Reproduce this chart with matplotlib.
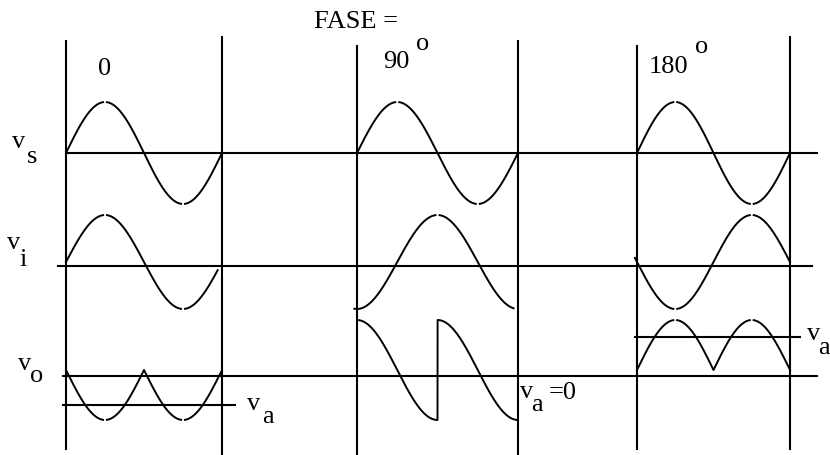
"""
    fase_detector.py
    ~~~~~~~~~~~~~~~~

    Phase-sensitive detector waveforms: vs, vi and vo for a reference
    phase of 0, 90 and 180 degrees, with the mean output va.
"""

# 3rd party modules
import numpy as np
from matplotlib import pyplot as plt


PHASES = [0, 90, 180]                 # phase of vi against vs, in degrees
PHASE_LABELS = ['0', '90', '180']
VA_LEVELS = [-0.7, 0.0, 0.66]         # mean of vo (in units of amplitude)
VA_TEXT = ['', '=0', '']
ROW_NAMES = ['s', 'i', 'o']
VI_SPAN = [(0, 350), (-6, 350), (-5, 360)]

# layout, in pixels
PANEL_X0 = [66, 357, 637]
PANEL_W = [156, 161, 153]
PANEL_TOP = [[42, 38], [47, 42], [47, 38]]
PANEL_BOTTOM = [[450, 456], [456, 456], [450, 450]]
ROW_LINE_Y = [154, 267, 377]
ROW_LINE_X = [(66, 817), (58, 812), (63, 817)]
ROW_CURVE_Y = [154, 263, 371]
ROW_AMP = [51, 47, 50]
VA_LINE_X = [(63, 235), None, (635, 800)]

FONT = {'family': 'Liberation Serif', 'size': 19, 'color': 'black'}
LW = 1.5


def with_gaps(theta, y):
    """Leave a small break on the flat top and bottom of a stroke."""
    y = y.copy()
    y[np.abs(y) > 0.997] = np.nan
    return y


def waveforms(phase, span):
    theta = np.linspace(0, 360, 1441)
    rad = np.deg2rad(theta)
    vs = np.sin(rad)
    theta_i = np.linspace(span[0], span[1], 1441)
    vi = np.sin(np.deg2rad(theta_i - phase))
    vi_ref = np.sin(rad - np.deg2rad(phase))
    vo = -vi_ref * np.where(vs >= -1e-12, 1.0, -1.0)
    vo[theta == 360] = vo[-2]
    return (theta, vs), (theta_i, vi), (theta, vo)


def main():
    fig = plt.figure(figsize=(8.3, 4.56), dpi=100)
    ax = fig.add_axes([0, 0, 1, 1])
    ax.set_xlim(0, 830)
    ax.set_ylim(456, 0)
    ax.axis('off')

    # row base lines
    for y, (xa, xb) in zip(ROW_LINE_Y, ROW_LINE_X):
        ax.plot([xa, xb], [y, y], color='black', lw=LW)

    for k, phase in enumerate(PHASES):
        x0, w = PANEL_X0[k], PANEL_W[k]
        for j, xv in enumerate([x0, x0 + w]):
            ax.plot([xv, xv], [PANEL_TOP[k][j], PANEL_BOTTOM[k][j]],
                    color='black', lw=LW)

        series = waveforms(phase, VI_SPAN[k])
        for r, (theta, y) in enumerate(series):
            if not (r == 2 and phase == 90):
                y = with_gaps(theta, y)
            xs = x0 + theta / 360.0 * w
            ys = ROW_CURVE_Y[r] - ROW_AMP[r] * y
            ax.plot(xs, ys, color='black', lw=1.4)

        if VA_LINE_X[k] is not None:
            ya = ROW_CURVE_Y[2] - ROW_AMP[2] * VA_LEVELS[k]
            ax.plot(VA_LINE_X[k], [ya, ya], color='black', lw=LW)

    # phase labels
    ax.text(356, 22, 'FASE =', ha='center', va='center', fontdict=FONT)
    ax.text(105, 69, PHASE_LABELS[0], ha='center', va='center', fontdict=FONT)
    ax.text(396, 62, PHASE_LABELS[1], ha='center', va='center', fontdict=FONT)
    ax.text(423, 44, 'o', ha='center', va='center', fontdict=FONT)
    ax.text(668, 67, PHASE_LABELS[2], ha='center', va='center', fontdict=FONT)
    ax.text(702, 47, 'o', ha='center', va='center', fontdict=FONT)

    # row labels
    row_label_pos = [((19, 142), (32, 157)),
                     ((14, 243), (23, 260)),
                     ((25, 364), (37, 376))]
    for name, (pv, ps) in zip(ROW_NAMES, row_label_pos):
        ax.text(*pv, 'v', ha='center', va='center', fontdict=FONT)
        ax.text(*ps, name, ha='center', va='center', fontdict=FONT)

    # va labels
    va_label_pos = [((254, 404), (268, 417)),
                    ((527, 392), (537, 405)),
                    ((814, 334), (824, 348))]
    for k, (pv, pa) in enumerate(va_label_pos):
        ax.text(*pv, 'v', ha='center', va='center', fontdict=FONT)
        ax.text(*pa, 'a', ha='center', va='center', fontdict=FONT)
        if VA_TEXT[k]:
            ax.text(549, 393, VA_TEXT[k], ha='left', va='center', fontdict=FONT)

    fig.savefig('out.png', dpi=100)


if __name__ == '__main__':
    main()
